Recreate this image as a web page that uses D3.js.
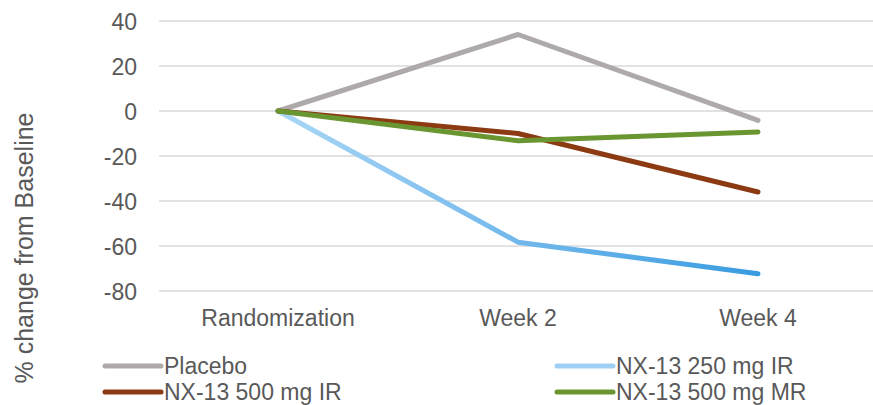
<!DOCTYPE html>
<html>
<head>
<meta charset="utf-8">
<script src="https://cdn.jsdelivr.net/npm/d3@7"></script>
<style>
  html, body { margin: 0; padding: 0; background: #fff; }
  svg { display: block; font-family: "Liberation Sans", Arial, sans-serif; }
</style>
</head>
<body>
<svg id="chart" width="873" height="405"></svg>
<script>
// Visit labels along the x axis
const visits = ["Randomization", "Week 2", "Week 4"];

// % change from baseline for each treatment arm
const placebo   = [0, 34, -4.2];
const ir250     = [0, -58.3, -72.3];
const ir500     = [0, -10, -36];
const mr500     = [0, -13.2, -9.3];

const seriesNames  = ["Placebo", "NX-13 250 mg IR", "NX-13 500 mg IR", "NX-13 500 mg MR"];
const yTicks = [40, 20, 0, -20, -40, -60, -80];

const series = [
  { name: seriesNames[0], values: placebo, color: "#aeaaaa" },
  { name: seriesNames[1], values: ir250,   color: "url(#blueGrad)", swatch: "#9fd0f3" },
  { name: seriesNames[2], values: ir500,   color: "#8b3a12" },
  { name: seriesNames[3], values: mr500,   color: "#6a9632" }
];

const svg = d3.select("#chart");
const textColor = "#595959";

const x = d3.scaleBand().domain(visits).range([158, 878]);
const y = d3.scaleLinear().domain([-80, 40]).range([291, 21]);
const cx = d => x(d) + x.bandwidth() / 2;

// gradient for the 250 mg IR line (lighter at start, deeper blue at end)
const defs = svg.append("defs");
const grad = defs.append("linearGradient")
  .attr("id", "blueGrad")
  .attr("gradientUnits", "userSpaceOnUse")
  .attr("x1", cx(visits[0])).attr("x2", cx(visits[2]))
  .attr("y1", 0).attr("y2", 0);
grad.append("stop").attr("offset", 0).attr("stop-color", "#a9d6f5");
grad.append("stop").attr("offset", 0.5).attr("stop-color", "#72b8ec");
grad.append("stop").attr("offset", 1).attr("stop-color", "#399ce0");

// horizontal gridlines
svg.append("g").selectAll("line")
  .data(yTicks)
  .join("line")
  .attr("x1", 159).attr("x2", 873)
  .attr("y1", d => y(d)).attr("y2", d => y(d))
  .attr("stroke", "#d9d9d9")
  .attr("stroke-width", 1.6);

// y axis tick labels (plain hyphen for negatives)
const yAxis = d3.axisLeft(y).tickValues(yTicks).tickFormat(d => String(d)).tickSize(0).tickPadding(0);
const gy = svg.append("g").attr("transform", "translate(137,0)").call(yAxis);
gy.select(".domain").remove();
gy.selectAll("text")
  .attr("fill", textColor)
  .attr("font-size", 23)
  .attr("font-family", "Liberation Sans, Arial, sans-serif")
  .attr("dy", "0.36em");

// x axis category labels
const xAxis = d3.axisBottom(x).tickSize(0).tickPadding(0);
const gx = svg.append("g").attr("transform", "translate(0,309)").call(xAxis);
gx.select(".domain").remove();
gx.selectAll("text")
  .attr("fill", textColor)
  .attr("font-size", 23)
  .attr("font-family", "Liberation Sans, Arial, sans-serif")
  .attr("dy", "0.74em");

// y axis title
svg.append("text")
  .attr("transform", "translate(33,248) rotate(-90)")
  .attr("text-anchor", "middle")
  .attr("fill", textColor)
  .attr("font-size", 25)
  .text("% change from Baseline");

// series lines
const line = d3.line()
  .x((d, i) => cx(visits[i]))
  .y(d => y(d));

svg.append("g").selectAll("path")
  .data(series)
  .join("path")
  .attr("d", d => line(d.values))
  .attr("fill", "none")
  .attr("stroke", d => d.color)
  .attr("stroke-width", 5)
  .attr("stroke-linecap", "round")
  .attr("stroke-linejoin", "round");

// legend: two columns, filled row by row
const legendCols = [105, 557];
const legendRows = [366, 392];
const lg = svg.append("g").selectAll("g")
  .data(series)
  .join("g")
  .attr("transform", (d, i) => `translate(${legendCols[i % 2]},${legendRows[Math.floor(i / 2)]})`);

lg.append("line")
  .attr("x1", 0).attr("x2", 56)
  .attr("y1", 0).attr("y2", 0)
  .attr("stroke", d => d.swatch || d.color)
  .attr("stroke-width", 5)
  .attr("stroke-linecap", "round");

lg.append("text")
  .attr("x", 59)
  .attr("y", 0)
  .attr("dy", "0.34em")
  .attr("fill", textColor)
  .attr("font-size", 23)
  .text(d => d.name);
</script>
</body>
</html>
